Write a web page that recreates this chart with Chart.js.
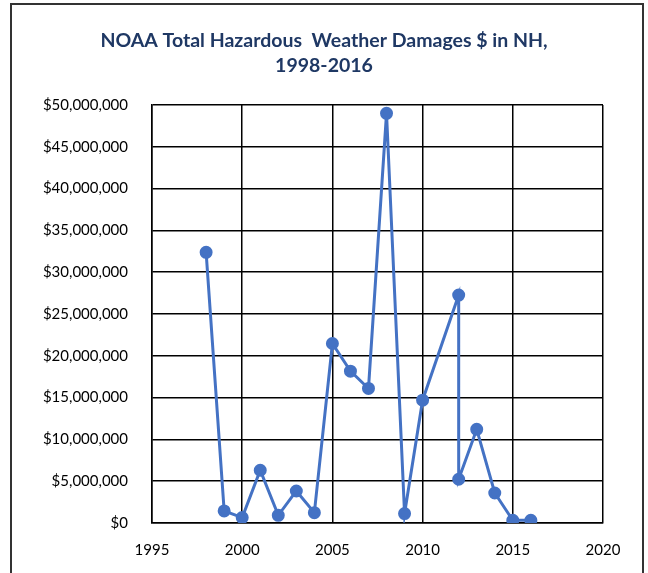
<!DOCTYPE html>
<html>
<head>
<meta charset="utf-8">
<script src="https://cdn.jsdelivr.net/npm/chart.js@4/dist/chart.umd.min.js"></script>
<style>
  html, body { margin: 0; padding: 0; background: #fff; }
  #frame { position: absolute; left: 10px; top: 3px; width: 634px; height: 580px; border: 2px solid #333; box-sizing: border-box; }
  #wrap { position: absolute; left: 0; top: 0; width: 648px; height: 573px; }
</style>
</head>
<body>
<div id="frame"></div>
<div id="wrap"><canvas id="c"></canvas></div>
<script>
// Damage values (USD); 2011 has no point, 2012 has two
const YEARS   = [1998, 1999, 2000, 2001, 2002, 2003, 2004, 2005, 2006, 2007, 2008, 2009, 2010, 2012, 2012, 2013, 2014, 2015, 2016];
const DAMAGES = [32370000, 1440000, 650000, 6310000, 920000, 3830000, 1240000, 21470000, 18160000, 16090000,
                 49000000, 1130000, 14690000, 27260000, 5230000, 11200000, 3590000, 320000, 320000];

const X_MIN = 1995, X_MAX = 2020, X_STEP = 5;
const Y_MIN = 0, Y_MAX = 50000000, Y_STEP = 5000000;

const TITLE = ['NOAA Total Hazardous  Weather Damages $ in NH,', '1998-2016'];

const LINE_COLOR = '#4472C4';
const GRID = '#000000';
const FONT = "Lato, 'Open Sans', sans-serif";

new Chart(document.getElementById('c'), {
  type: 'scatter',
  data: {
    datasets: [{
      data: YEARS.map((y, i) => ({ x: y, y: DAMAGES[i] })),
      showLine: true,
      borderColor: LINE_COLOR,
      backgroundColor: LINE_COLOR,
      borderWidth: 3,
      pointRadius: 5,
      pointHoverRadius: 5,
      tension: 0,
    }]
  },
  options: {
    responsive: true,
    maintainAspectRatio: false,
    animation: false,
    layout: { padding: 0 },
    plugins: {
      legend: { display: false },
      tooltip: { enabled: false },
      title: {
        display: true,
        text: TITLE,
        color: '#1F3864',
        font: { family: FONT, size: 19.5, weight: 'bold', lineHeight: 1.28 },
        padding: { top: 28, bottom: 27 },
      },
    },
    scales: {
      x: {
        type: 'linear',
        min: X_MIN, max: X_MAX,
        afterFit: s => { s.height = 50; },
        ticks: {
          stepSize: X_STEP,
          color: '#000',
          padding: 18,
          font: { family: FONT, size: 15 },
          callback: v => String(v),
        },
        grid: { color: GRID, lineWidth: 1.5, drawTicks: false },
        border: { color: GRID, width: 1.5 },
      },
      y: {
        min: Y_MIN, max: Y_MAX,
        afterFit: s => { s.width = 152; },
        ticks: {
          stepSize: Y_STEP,
          color: '#000',
          padding: 24,
          font: { family: FONT, size: 15 },
          callback: v => '$' + Number(v).toLocaleString('en-US'),
        },
        grid: { color: GRID, lineWidth: 1.5, drawTicks: false },
        border: { color: GRID, width: 1.5 },
      },
      // empty right-hand spacer so the title stays centred on the whole page
      spacer: {
        position: 'right',
        min: Y_MIN, max: Y_MAX,
        afterFit: s => { s.width = 45; },
        ticks: { display: false },
        grid: { display: false, drawTicks: false },
        border: { display: false },
      },
    },
  },
});
</script>
</body>
</html>
